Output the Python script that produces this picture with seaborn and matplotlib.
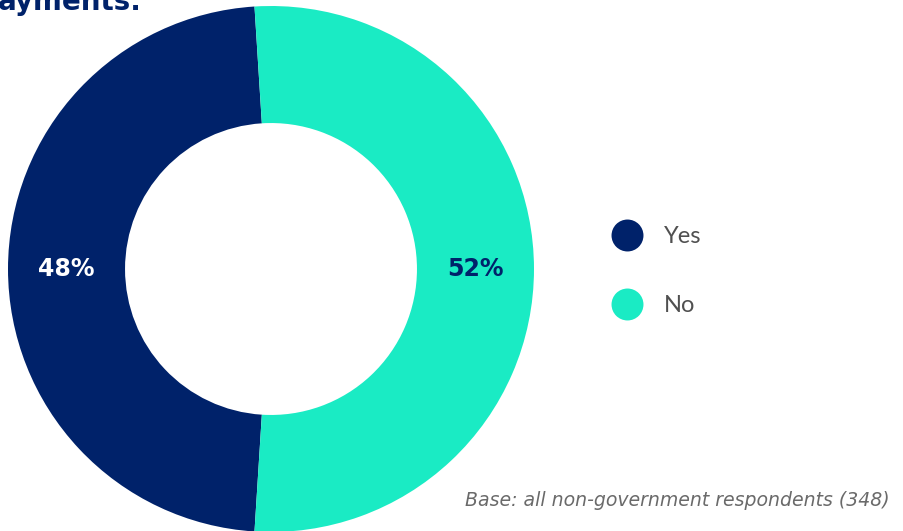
import matplotlib
matplotlib.use("Agg")
import matplotlib.pyplot as plt
from matplotlib.lines import Line2D
import seaborn as sns

# Survey answers
categories = ["Yes", "No"]
shares = [48, 52]
title_fragment = "ayments."
base_note = "Base: all non-government respondents (348)"

NAVY = "#00226A"
TEAL = "#1AEBC4"

sns.set_theme(style="white")
plt.rcParams["font.family"] = ["Lato", "DejaVu Sans"]
palette = sns.color_palette([NAVY, TEAL])

W, H = 904, 531
fig = plt.figure(figsize=(W / 100, H / 100), dpi=100)
fig.patch.set_facecolor("white")

# Donut axes: centre (271, 269) px, outer radius 263 px
cx, cy, r = 271, 269, 263
ax = fig.add_axes([(cx - r) / W, (H - cy - r) / H, 2 * r / W, 2 * r / H])
ax.axis("off")

# centre the "Yes" wedge on the left side
start = 180 - shares[0] * 360 / 100 / 2
wedges, _, autotexts = ax.pie(
    shares,
    colors=palette,
    startangle=start,
    counterclock=True,
    radius=1,
    wedgeprops=dict(width=0.445, edgecolor="none"),
    autopct=lambda p: f"{p:.0f}%",
    pctdistance=0.7775,
)
ax.set_xlim(-1, 1)
ax.set_ylim(-1, 1)
ax.set_aspect("equal")

label_colors = ["white", NAVY]
for t, c in zip(autotexts, label_colors):
    t.set_color(c)
    t.set_fontsize(17)
    t.set_fontweight("bold")
    t.set_family(["DejaVu Sans"])
    t.set_ha("center")
    t.set_va("center")

# Legend with round markers
handles = [
    Line2D([], [], marker="o", linestyle="none", markersize=23,
           markerfacecolor=col, markeredgecolor="none")
    for col in palette
]
leg = fig.legend(
    handles, categories,
    loc="center left",
    bbox_to_anchor=(592 / W, 1 - 271 / H),
    frameon=False,
    handlelength=1.2,
    handletextpad=0.95,
    labelspacing=2.05,
    prop=dict(family=["Lato", "DejaVu Sans"], size=17),
)
for txt in leg.get_texts():
    txt.set_color("#505050")

# Heading line clipped at the top edge
fig.text(-2 / W, 1 - 10 / H, title_fragment, ha="left", va="baseline",
         fontsize=20, fontweight="bold", color=NAVY,
         family=["DejaVu Sans"])

# Base note
fig.text(890 / W, 1 - 500 / H, base_note, ha="right", va="center",
         fontsize=13.6, style="italic", color="#6a6a6a",
         family=["DejaVu Sans"])

fig.savefig("out.png", dpi=100, facecolor="white")
